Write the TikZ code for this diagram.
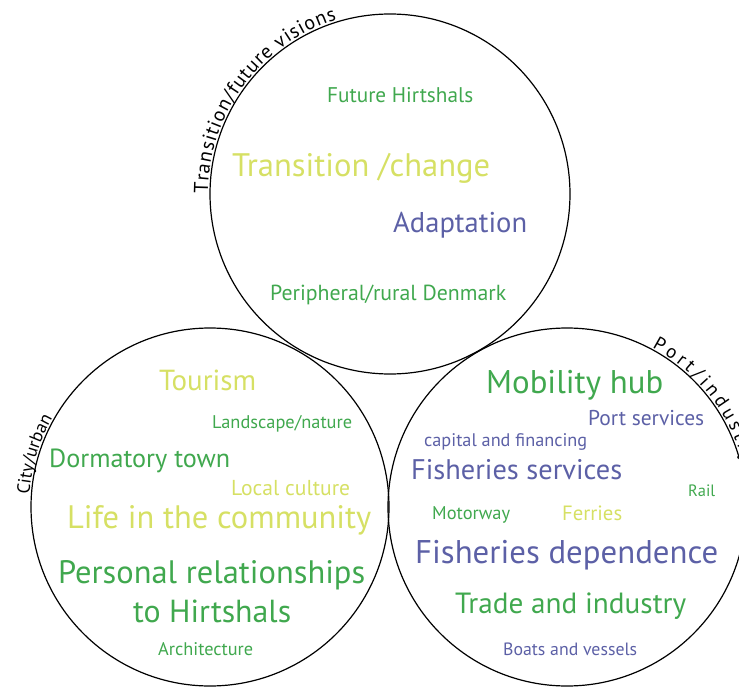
\documentclass[tikz,border=0pt]{standalone}
\usepackage{fontspec}
\usepackage{graphicx}
\setmainfont{PT Sans}
\usetikzlibrary{decorations.text}
\definecolor{cgreen}{RGB}{64,168,78}
\definecolor{cyellow}{RGB}{214,224,100}
\definecolor{cblue}{RGB}{92,96,166}
\newcommand{\fw}[2]{\resizebox{#1pt}{!}{#2}}
\tikzset{
  ring/.style={draw=black, line width=1.2pt},
  lbl/.style={inner sep=0pt, anchor=base west, text=#1},
  arclbl/.style={decorate, decoration={text along path, text align=fit to path, raise=1pt, text={#1}}}
}
\begin{document}
\begin{tikzpicture}[x=1pt,y=1pt]
\useasboundingbox (0,0) rectangle (739,-687);
\clip (0,0) rectangle (739,-687);
% circles
\node[ring, circle, minimum size=360pt, inner sep=0pt] (ctop) at (390,-194) {};
\node[ring, circle, minimum size=358pt, inner sep=0pt] (cleft) at (210,-507) {};
\node[ring, circle, minimum size=358pt, inner sep=0pt] (cright) at (567,-507) {};
% curved category labels
\path[arclbl={|\fontsize{20}{20}\selectfont|Transition/future visions}] (ctop.center) ++(180:181) arc[start angle=180, end angle=107, radius=181];
\path[arclbl={|\fontsize{18}{18}\selectfont|City/urban}] (cleft.center) ++(176:180) arc[start angle=176, end angle=151, radius=180];
\path[arclbl={|\fontsize{19}{19}\selectfont|Port/industry}] (cright.center) ++(62:180) arc[start angle=62, end angle=14, radius=180];
% top circle
\node[lbl=cgreen] (t1) at (327,-103) {\fw{146}{Future Hirtshals}};
\node[lbl=cyellow] (t2) at (232,-177) {\fw{258}{Transition /change}};
\node[lbl=cblue] (t3) at (393,-233) {\fw{134}{Adaptation}};
\node[lbl=cgreen] (t4) at (270,-301) {\fw{236}{Peripheral/rural Denmark}};
% left circle
\node[lbl=cyellow] (l1) at (159,-390) {\fw{97}{Tourism}};
\node[lbl=cgreen] (l2) at (212,-428) {\fw{140}{Landscape/nature}};
\node[lbl=cgreen] (l3) at (49,-467) {\fw{181}{Dormatory town}};
\node[lbl=cyellow] (l4) at (231,-495) {\fw{119}{Local culture}};
\node[lbl=cyellow] (l5) at (67,-528) {\fw{304}{Life in the community}};
\node[lbl=cgreen] (l6) at (58,-583) {\fw{307}{Personal relationships}};
\node[lbl=cgreen] (l7) at (133,-622) {\fw{158}{to Hirtshals}};
\node[lbl=cgreen] (l8) at (158,-655) {\fw{95}{Architecture}};
% right circle
\node[lbl=cgreen] (r1) at (486,-393) {\fw{177}{Mobility hub}};
\node[lbl=cblue] (r2) at (588,-425) {\fw{116}{Port services}};
\node[lbl=cblue] (r3) at (424,-446) {\fw{163}{capital and financing}};
\node[lbl=cblue] (r4) at (411,-479) {\fw{211}{Fisheries services}};
\node[lbl=cgreen] (r5) at (688,-496) {\fw{27}{Rail}};
\node[lbl=cgreen] (r6) at (432,-519) {\fw{78}{Motorway}};
\node[lbl=cyellow] (r7) at (562,-520) {\fw{60}{Ferries}};
\node[lbl=cblue] (r8) at (415,-563) {\fw{303}{Fisheries dependence}};
\node[lbl=cgreen] (r9) at (455,-613) {\fw{231}{Trade and industry}};
\node[lbl=cblue] (r10) at (503,-655) {\fw{134}{Boats and vessels}};
\end{tikzpicture}
\end{document}
